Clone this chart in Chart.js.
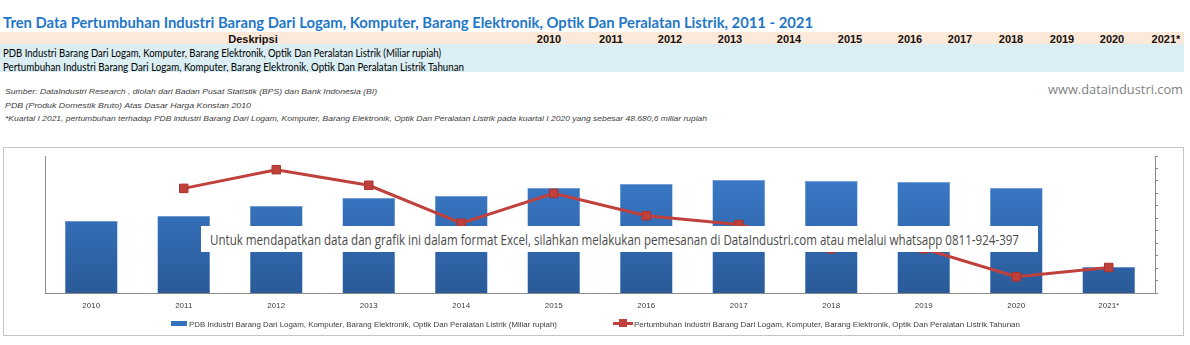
<!DOCTYPE html>
<html>
<head>
<meta charset="utf-8">
<script src="https://cdn.jsdelivr.net/npm/chart.js@4/dist/chart.umd.min.js"></script>
<style>
  html, body { margin: 0; padding: 0; background: #fff; }
  body { width: 1190px; height: 345px; position: relative; overflow: hidden; }
  .t { position: absolute; white-space: nowrap; transform-origin: 0 50%; line-height: 1; }
  .c { position: absolute; white-space: nowrap; line-height: 1; transform: translate(-50%, -50%); }
  .band { position: absolute; left: 0; width: 1184px; }
  #judul { font: bold 15px Lato, sans-serif; color: #1f77c9; }
  .row { font: 11px Lato, sans-serif; color: #000; }
  .hd { font: bold 11px "Liberation Sans", sans-serif; color: #111; }
  .note { font: italic 8px "Liberation Sans", sans-serif; color: #404040; }
  #www { font: 13px "Open Sans", sans-serif; color: #7f7f7f; }
  #kotak { position: absolute; left: 3px; top: 147px; width: 1179px; height: 187px; border: 1px solid #c4c4c4; }
  #watermark { position: absolute; left: 201px; top: 226px; width: 837px; height: 26px; background: #fff; }
  #wmtext { font: 14px "Open Sans", sans-serif; color: #4a4a4a; }
  .leg { font: 8px "Liberation Sans", sans-serif; color: #404040; }
</style>
</head>
<body>
<div class="t" id="judul" style="left:3px; top:22px" data-w="810">Tren Data Pertumbuhan Industri Barang Dari Logam, Komputer, Barang Elektronik, Optik Dan Peralatan Listrik, 2011 - 2021</div>

<div class="band" style="top:32px; height:12px; background:#fde9d9"></div>
<div class="band" style="top:44px; height:28px; background:#daeef3"></div>
<div id="header"></div>
<div class="t row" style="left:3px; top:52px" data-w="438">PDB Industri Barang Dari Logam, Komputer, Barang Elektronik, Optik Dan Peralatan Listrik (Miliar rupiah)</div>
<div class="t row" style="left:3px; top:65.5px" data-w="461">Pertumbuhan Industri Barang Dari Logam, Komputer, Barang Elektronik, Optik Dan Peralatan Listrik Tahunan</div>

<div class="t" id="www" style="left:1048px; top:88.5px" data-w="135">www.dataindustri.com</div>
<div class="t note" style="left:5px; top:91px" data-w="372">Sumber: DataIndustri Research , diolah dari Badan Pusat Statistik (BPS) dan Bank Indonesia (BI)</div>
<div class="t note" style="left:5px; top:105px" data-w="246">PDB (Produk Domestik Bruto) Atas Dasar Harga Konstan 2010</div>
<div class="t note" style="left:5px; top:118px" data-w="702">*Kuartal I 2021, pertumbuhan terhadap PDB industri Barang Dari Logam, Komputer, Barang Elektronik, Optik Dan Peralatan Listrik pada kuartal I 2020 yang sebesar 48.680,6 miliar rupiah</div>

<div id="kotak"><canvas id="grafik" width="1179" height="187"></canvas></div>

<div id="watermark"></div>
<div class="t" id="wmtext" style="left:210px; top:239px" data-w="809">Untuk mendapatkan data dan grafik ini dalam format Excel, silahkan melakukan pemesanan di DataIndustri.com atau melalui whatsapp 0811-924-397</div>

<div style="position:absolute; left:171px; top:321px; width:16px; height:5px; background:#3572bd"></div>
<div class="t leg" style="left:189px; top:323.5px" data-w="368">PDB Industri Barang Dari Logam, Komputer, Barang Elektronik, Optik Dan Peralatan Listrik (Miliar rupiah)</div>
<div style="position:absolute; left:613px; top:322px; width:20px; height:3px; background:#c0403c"></div>
<div style="position:absolute; left:619px; top:319px; width:8px; height:8px; background:#c0403c"></div>
<div class="t leg" style="left:634px; top:323.5px" data-w="386">Pertumbuhan Industri Barang Dari Logam, Komputer, Barang Elektronik, Optik Dan Peralatan Listrik Tahunan</div>

<script>
// kategori (sumbu x) dan kolom tabel
const tahun = ['2010', '2011', '2012', '2013', '2014', '2015', '2016', '2017', '2018', '2019', '2020', '2021*'];
const kolomTabel = ['2010', '2011', '2012', '2013', '2014', '2015', '2016', '2017', '2018', '2019', '2020', '2021*'];

// PDB (miliar rupiah) - dibaca dari tinggi batang
const pdb = [136600, 146100, 165100, 180300, 184100, 199300, 206900, 214500, 212600, 210700, 199300, 49300];

// pertumbuhan tahunan (%) - 2010 tanpa data
const pertumbuhan = [null, 6.8, 9.8, 7.3, 1.2, 6.0, 2.4, 1.0, -2.9, -2.9, -7.4, -5.9];

// posisi kolom tahun di baris judul tabel
const posKolom = [549, 611, 670, 730, 789, 850, 910, 960, 1011, 1062, 1112, 1166];

const hdr = document.getElementById('header');
hdr.insertAdjacentHTML('beforeend', '<div class="c hd" style="left:253px; top:38.5px">Deskripsi</div>');
kolomTabel.forEach((k, i) => {
  hdr.insertAdjacentHTML('beforeend', `<div class="c hd" style="left:${posKolom[i]}px; top:38.5px">${k}</div>`);
});

// tarik teks agar lebarnya sama dengan gambar asli
function pasLebar() {
  document.querySelectorAll('.t[data-w]').forEach(el => {
    el.style.transform = 'translateY(-50%)';
    const w = el.getBoundingClientRect().width;
    const target = Number(el.dataset.w);
    el.style.transform = `translateY(-50%) scaleX(${target / w})`;
  });
}
pasLebar();

const garisSumbu = '#8a8a8a';

new Chart(document.getElementById('grafik'), {
  type: 'bar',
  data: {
    labels: tahun,
    datasets: [
      {
        type: 'line',
        label: 'Pertumbuhan Industri Barang Dari Logam, Komputer, Barang Elektronik, Optik Dan Peralatan Listrik Tahunan',
        data: pertumbuhan,
        yAxisID: 'y1',
        borderColor: '#c0403c',
        borderWidth: 3,
        pointStyle: 'rect',
        pointRadius: 6,
        pointBackgroundColor: '#c0403c',
        pointBorderColor: '#a83431',
        pointBorderWidth: 1,
        tension: 0,
        order: 0
      },
      {
        label: 'PDB Industri Barang Dari Logam, Komputer, Barang Elektronik, Optik Dan Peralatan Listrik (Miliar rupiah)',
        data: pdb,
        yAxisID: 'y',
        backgroundColor: (ctx) => {
          const area = ctx.chart.chartArea;
          if (!area) return '#3572bd';
          const g = ctx.chart.ctx.createLinearGradient(0, area.top, 0, area.bottom);
          g.addColorStop(0, '#3d7fd0');
          g.addColorStop(1, '#2a5a98');
          return g;
        },
        borderColor: '#5b92d6',
        borderWidth: 0.5,
        categoryPercentage: 1,
        barPercentage: 0.57,
        order: 1
      }
    ]
  },
  options: {
    responsive: false,
    animation: false,
    layout: { padding: { top: 8, left: 0, right: 0, bottom: 0 } },
    plugins: { legend: { display: false }, tooltip: { enabled: false } },
    scales: {
      x: {
        grid: { display: false, drawTicks: false },
        border: { color: garisSumbu, width: 1 },
        ticks: { color: '#404040', font: { family: 'Liberation Sans', size: 8 }, padding: 8, maxRotation: 0 },
        afterFit: (s) => { s.height = 42; }
      },
      y: {
        position: 'left',
        min: 0,
        max: 260000,
        grid: { display: false, drawTicks: false },
        border: { color: garisSumbu, width: 1 },
        ticks: { display: false },
        afterFit: (s) => { s.width = 41; }
      },
      y1: {
        position: 'right',
        min: -10,
        max: 12,
        grid: { drawOnChartArea: false, drawTicks: true, tickLength: 3, tickColor: garisSumbu },
        border: { color: garisSumbu, width: 1 },
        ticks: { display: false, stepSize: 2 },
        afterFit: (s) => { s.width = 28; }
      }
    }
  }
});
</script>
</body>
</html>
